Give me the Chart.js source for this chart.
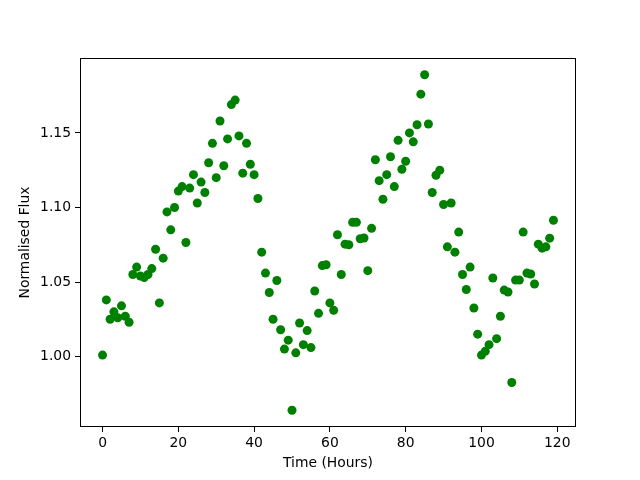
<!DOCTYPE html>
<html>
<head>
<meta charset="utf-8">
<script src="https://cdn.jsdelivr.net/npm/chart.js@4.4.1/dist/chart.umd.min.js"></script>
<style>
    html, body { margin: 0; padding: 0; background: #fff; }
    #wrap { width: 640px; height: 480px; }
</style>
</head>
<body>
<div id="wrap"><canvas id="chart" width="640" height="480"></canvas></div>
<script>
// hourly flux readings, hour 0..119
const hours = Array.from({ length: 120 }, (_, i) => i);
const flux = [
    1.001, 1.038, 1.025, 1.030, 1.026, 1.034, 1.027, 1.023, 1.055, 1.060,
    1.054, 1.053, 1.055, 1.059, 1.072, 1.036, 1.066, 1.097, 1.085, 1.100,
    1.111, 1.114, 1.0765, 1.113, 1.122, 1.103, 1.117, 1.110, 1.130, 1.143,
    1.120, 1.158, 1.128, 1.146, 1.169, 1.172, 1.148, 1.123, 1.143, 1.129,
    1.122, 1.106, 1.070, 1.056, 1.043, 1.025, 1.051, 1.018, 1.005, 1.011,
    0.964, 1.0025, 1.0225, 1.008, 1.0174, 1.006, 1.044, 1.029, 1.061, 1.0616,
    1.036, 1.031, 1.0817, 1.055, 1.0754, 1.075, 1.090, 1.090, 1.079, 1.0795,
    1.0576, 1.086, 1.132, 1.118, 1.1055, 1.122, 1.134, 1.114, 1.145, 1.1256,
    1.131, 1.150, 1.144, 1.1555, 1.176, 1.189, 1.156, 1.110, 1.1216, 1.125,
    1.102, 1.0736, 1.103, 1.070, 1.0835, 1.055, 1.045, 1.060, 1.0326, 1.015,
    1.001, 1.0035, 1.008, 1.0527, 1.012, 1.027, 1.0446, 1.0433, 0.9826, 1.0513,
    1.0513, 1.0835, 1.056, 1.0554, 1.0487, 1.0754, 1.0727, 1.0736, 1.0794, 1.0914,
];
const xTicks = [0, 20, 40, 60, 80, 100, 120];
const yTicks = [1.00, 1.05, 1.10, 1.15];

const FONT = { family: 'DejaVu Sans', size: 13.9 };

// matplotlib-style 5% margins
function padRange(vals) {
    const lo = Math.min(...vals), hi = Math.max(...vals);
    const m = (hi - lo) * 0.05;
    return { min: lo - m, max: hi + m };
}
const xr = padRange(hours);
const yr = padRange(flux);

const boxPlugin = {
    id: 'box',
    afterDatasetsDraw(chart) {
        const { ctx, chartArea: a } = chart;
        ctx.save();
        ctx.strokeStyle = '#000';
        ctx.lineWidth = 1;
        ctx.strokeRect(a.left + 0.5, a.top + 0.5, a.right - a.left - 1, a.bottom - a.top - 1);
        ctx.restore();
    },
};

new Chart(document.getElementById('chart').getContext('2d'), {
    type: 'scatter',
    data: {
        datasets: [{
            data: hours.map((h, i) => ({ x: h, y: flux[i] })),
            backgroundColor: '#008000',
            borderColor: '#008000',
            borderWidth: 0,
            pointRadius: 4.5,
            pointHoverRadius: 4.5,
        }],
    },
    options: {
        responsive: false,
        animation: false,
        events: [],
        layout: { padding: { left: 0, top: 58, right: 64, bottom: 0 } },
        plugins: { legend: { display: false }, tooltip: { enabled: false } },
        scales: {
            x: {
                type: 'linear',
                min: xr.min,
                max: xr.max,
                afterBuildTicks: (s) => { s.ticks = xTicks.map((v) => ({ value: v })); },
                afterFit: (s) => { s.height = 53; },
                border: { display: false },
                grid: { drawOnChartArea: false, drawTicks: true, tickLength: 5, color: '#000' },
                ticks: { color: '#000', font: FONT, padding: 3, maxRotation: 0, callback: (v) => String(v) },
                title: { display: true, text: 'Time (Hours)', color: '#000', font: FONT, padding: { top: 0, bottom: 8.5 } },
            },
            y: {
                type: 'linear',
                min: yr.min,
                max: yr.max,
                afterBuildTicks: (s) => { s.ticks = yTicks.map((v) => ({ value: v })); },
                afterFit: (s) => { s.width = 80; },
                border: { display: false },
                grid: { drawOnChartArea: false, drawTicks: true, tickLength: 5, color: '#000' },
                ticks: { color: '#000', font: FONT, padding: 4, callback: (v) => Number(v).toFixed(2) },
                title: { display: true, text: 'Normalised Flux', color: '#000', font: FONT, padding: { top: 17.5, bottom: 0 } },
            },
        },
    },
    plugins: [boxPlugin],
});
</script>
</body>
</html>
